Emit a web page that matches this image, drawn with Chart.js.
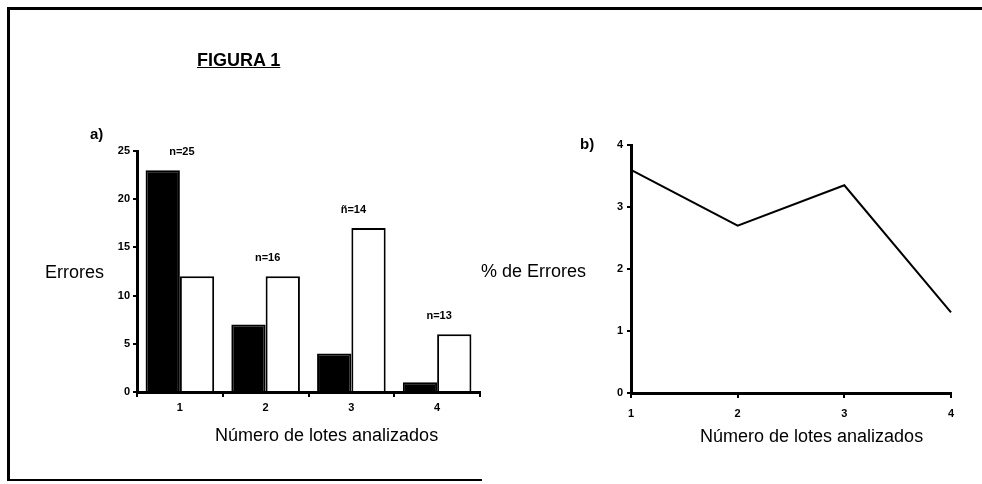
<!DOCTYPE html>
<html>
<head>
<meta charset="utf-8">
<script src="https://cdn.jsdelivr.net/npm/chart.js@4.4.1/dist/chart.umd.min.js"></script>
<style>
  html, body { margin:0; padding:0; background:#fff; }
  body { width:982px; height:484px; position:relative; overflow:hidden; font-family:'Liberation Sans', Arial, Helvetica, sans-serif; color:#000; }
  .box { position:absolute; left:0; top:0; width:982px; height:484px; }
  .t { position:absolute; line-height:1; white-space:nowrap; }
  .line { position:absolute; background:#000; }
</style>
</head>
<body>
<div class="line" style="left:8px; top:7px; width:974px; height:3px;"></div>
<div class="line" style="left:7px; top:7px; width:3px; height:474px;"></div>
<div class="line" style="left:7px; top:479px; width:475px; height:2px;"></div>

<div class="box"><canvas id="barChart" width="982" height="484"></canvas></div>
<div class="box"><canvas id="lineChart" width="982" height="484"></canvas></div>

<div class="t" style="left:197px; top:51px; font-size:18px; font-weight:bold; text-decoration:underline;">FIGURA 1</div>
<div class="t" style="left:90px; top:126px; font-size:15px; font-weight:bold;">a)</div>
<div class="t" style="left:45px; top:263px; font-size:18px;">Errores</div>
<div class="t" style="left:215px; top:426px; font-size:18px;">Número de lotes analizados</div>
<div class="t" style="left:580px; top:136px; font-size:15px; font-weight:bold;">b)</div>
<div class="t" style="left:481px; top:262px; font-size:18px;">% de Errores</div>
<div class="t" style="left:700px; top:427px; font-size:18px;">Número de lotes analizados</div>

<script>
// ---- Data ----
const lotCategories = ['1', '2', '3', '4'];
const errorsBlack = [23, 7, 4, 1];
const errorsWhite = [12, 12, 17, 6];
const nLabels = ['n=25', 'n=16', 'ñ=14', 'n=13'];
const errorsYTicks = [0, 5, 10, 15, 20, 25];
const percentErrors = [3.6, 2.7, 3.35, 1.3];
const percentYTicks = [0, 1, 2, 3, 4];

const tickFont = { family: "'Liberation Sans Narrow', 'Liberation Sans', Arial, sans-serif", size: 11, weight: 'bold' };

const nLabelPlugin = {
  id: 'nLabels',
  afterDatasetsDraw(chart) {
    const ctx = chart.ctx;
    const xs = chart.scales.x, ys = chart.scales.y;
    ctx.save();
    ctx.fillStyle = '#000';
    ctx.font = "bold 11px 'Liberation Sans Narrow', 'Liberation Sans', Arial, sans-serif";
    ctx.textAlign = 'center';
    ctx.textBaseline = 'middle';
    nLabels.forEach((lab, i) => {
      const top = Math.max(errorsBlack[i], errorsWhite[i]);
      ctx.fillText(lab, xs.getPixelForValue(i) + 2, ys.getPixelForValue(top) - 18);
    });
    ctx.restore();
  }
};

new Chart(document.getElementById('barChart'), {
  type: 'bar',
  data: {
    labels: lotCategories,
    datasets: [
      { data: errorsBlack, backgroundColor: '#000', borderColor: '#000', borderWidth: 2 },
      { data: errorsWhite, backgroundColor: '#fff', borderColor: '#000', borderWidth: 2 }
    ]
  },
  options: {
    responsive: false,
    animation: false,
    events: [],
    layout: { padding: { left: 0, top: 151, right: 502, bottom: 62 } },
    plugins: { legend: { display: false }, tooltip: { enabled: false } },
    datasets: { bar: { categoryPercentage: 0.8, barPercentage: 1.0 } },
    scales: {
      x: {
        afterFit: s => { s.height = 30; },
        border: { display: true, color: '#000', width: 3 },
        grid: { display: true, drawOnChartArea: false, drawTicks: true, tickLength: 5, color: '#000', lineWidth: 2 },
        ticks: { color: '#000', font: tickFont, padding: 4 }
      },
      y: {
        min: 0, max: 25,
        afterFit: s => { s.width = 137; },
        afterBuildTicks: s => { s.ticks = errorsYTicks.map(v => ({ value: v })); },
        border: { display: true, color: '#000', width: 3 },
        grid: { display: true, drawOnChartArea: false, drawTicks: true, tickLength: 4, color: '#000', lineWidth: 2 },
        ticks: { color: '#000', font: tickFont, padding: 3 }
      }
    }
  },
  plugins: [nLabelPlugin]
});

new Chart(document.getElementById('lineChart'), {
  type: 'line',
  data: {
    labels: lotCategories,
    datasets: [
      { data: percentErrors, borderColor: '#000', borderWidth: 2, pointRadius: 0, tension: 0, fill: false }
    ]
  },
  options: {
    responsive: false,
    animation: false,
    events: [],
    layout: { padding: { left: 0, top: 145, right: 31, bottom: 61 } },
    plugins: { legend: { display: false }, tooltip: { enabled: false } },
    scales: {
      x: {
        offset: false,
        afterFit: s => { s.height = 30; },
        border: { display: true, color: '#000', width: 3 },
        grid: { display: true, drawOnChartArea: false, drawTicks: true, tickLength: 5, color: '#000', lineWidth: 2 },
        ticks: { color: '#000', font: tickFont, padding: 9, maxRotation: 0 }
      },
      y: {
        min: 0, max: 4,
        afterFit: s => { s.width = 631; },
        afterBuildTicks: s => { s.ticks = percentYTicks.map(v => ({ value: v })); },
        border: { display: true, color: '#000', width: 3 },
        grid: { display: true, drawOnChartArea: false, drawTicks: true, tickLength: 4, color: '#000', lineWidth: 2 },
        ticks: { color: '#000', font: tickFont, padding: 4 }
      }
    }
  }
});
</script>
</body>
</html>
